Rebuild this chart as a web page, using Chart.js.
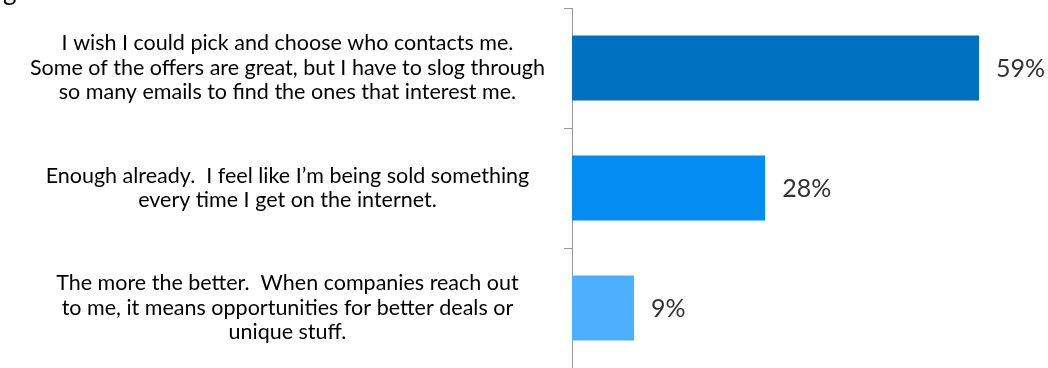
<!DOCTYPE html>
<html>
<head>
<meta charset="utf-8">
<script src="https://cdn.jsdelivr.net/npm/chart.js@4/dist/chart.umd.min.js"></script>
<style>
  html, body { margin: 0; padding: 0; background: #fff; overflow: hidden; }
  #wrap { position: relative; width: 1048px; height: 368px; }
  #clip { position: absolute; left: 3px; top: -26px; font: 26px Lato, sans-serif; color: #000; }
</style>
</head>
<body>
<div id="wrap">
  <canvas id="myChart" width="1048" height="368"></canvas>
  <div id="clip">g</div>
</div>
<script>
const answers = [
    ['I wish I could pick and choose who contacts me.', 'Some of the offers are great, but I have to slog through', 'so many emails to find the ones that interest me.'],
    ['Enough already.  I feel like I\u2019m being sold something', 'every time I get on the internet.'],
    ['The more the better.  When companies reach out', 'to me, it means opportunities for better deals or', 'unique stuff.']
];
const shares = [59, 28, 9];
const barColors = ['#0070C0', '#058CF2', '#4DB0FF'];

// percent text just past the end of each bar
const valueLabels = {
    id: 'valueLabels',
    afterDatasetsDraw(chart) {
        const ctx = chart.ctx;
        const meta = chart.getDatasetMeta(0);
        ctx.save();
        ctx.font = '25px Lato, sans-serif';
        ctx.fillStyle = '#333';
        ctx.textBaseline = 'middle';
        meta.data.forEach(function (bar, i) {
            ctx.fillText(shares[i] + '%', bar.x + 17, bar.y + 1);
        });
        ctx.restore();
    }
};

const ctx = document.getElementById('myChart').getContext('2d');
const chart = new Chart(ctx, {
    type: 'bar',
    data: {
        labels: answers,
        datasets: [{
            data: shares,
            backgroundColor: barColors,
            borderWidth: 0,
            barPercentage: 0.9,
            categoryPercentage: 0.6
        }]
    },
    plugins: [valueLabels],
    options: {
        indexAxis: 'y',
        responsive: false,
        animation: false,
        layout: { padding: { top: 8, bottom: 0, left: 0, right: 0 } },
        plugins: {
            legend: { display: false },
            tooltip: { enabled: false }
        },
        scales: {
            x: {
                display: false,
                min: 0,
                max: 69
            },
            y: {
                afterFit: function (scale) {
                    scale.width = 572;
                    scale.paddingTop = 0;
                    scale.paddingBottom = 0;
                },
                border: { display: true, color: '#999', width: 1 },
                grid: { drawOnChartArea: false, tickLength: 8, color: '#999' },
                ticks: {
                    crossAlign: 'center',
                    color: '#000',
                    padding: 19,
                    font: { family: 'Lato', size: 21.5, lineHeight: '24.5px' }
                }
            }
        }
    }
});
</script>
</body>
</html>
